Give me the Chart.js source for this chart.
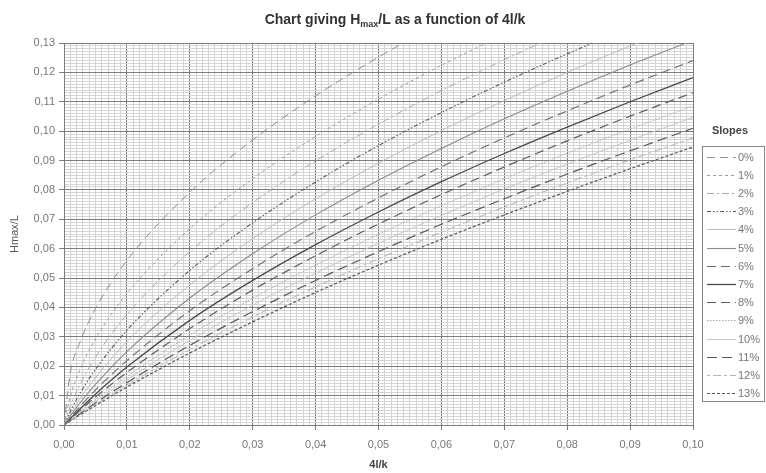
<!DOCTYPE html>
<html><head><meta charset="utf-8">
<script src="https://cdn.jsdelivr.net/npm/chart.js@4.4.1/dist/chart.umd.min.js"></script>
<style>html,body{margin:0;padding:0;background:#fff}canvas{display:block}</style>
</head><body>
<canvas id="c" width="766" height="473"></canvas>
<script>
// ---- data ----
const xValues = [0, 0.001, 0.0025, 0.005, 0.01, 0.02, 0.03, 0.04, 0.05, 0.06, 0.07, 0.08, 0.09, 0.10];
const slopeLabels = ['0%','1%','2%','3%','4%','5%','6%','7%','8%','9%','10%','11%','12%','13%'];
const slope0  = [0, 0.0177, 0.0280, 0.0396, 0.0560, 0.0792, 0.0970, 0.1120, 0.1252, 0.1372, null, null, null, null];
const slope1  = [0, 0.0097, 0.0186, 0.0293, 0.0447, 0.0668, 0.0838, 0.0982, 0.1109, 0.1224, 0.1330, null, null, null];
const slope2  = [0, 0.0063, 0.0136, 0.0231, 0.0376, 0.0590, 0.0757, 0.0899, 0.1024, 0.1138, 0.1243, 0.1341, null, null];
const slope3  = [0, 0.0046, 0.0106, 0.0189, 0.0322, 0.0526, 0.0688, 0.0827, 0.0951, 0.1063, 0.1167, 0.1263, 0.1354, null];
const slope4  = [0, 0.0037, 0.0088, 0.0161, 0.0284, 0.0477, 0.0634, 0.0770, 0.0891, 0.1002, 0.1104, 0.1200, 0.1290, 0.1375];
const slope5  = [0, 0.0031, 0.0074, 0.0138, 0.0250, 0.0432, 0.0583, 0.0715, 0.0833, 0.0941, 0.1042, 0.1136, 0.1225, 0.1309];
const slope6  = [0, 0.0026, 0.0062, 0.0119, 0.0219, 0.0389, 0.0532, 0.0659, 0.0773, 0.0879, 0.0977, 0.1069, 0.1157, 0.1240];
const slope7  = [0, 0.0022, 0.0054, 0.0105, 0.0197, 0.0356, 0.0492, 0.0614, 0.0725, 0.0828, 0.0924, 0.1014, 0.1100, 0.1182];
const slope8  = [0, 0.0020, 0.0049, 0.0095, 0.0179, 0.0328, 0.0459, 0.0576, 0.0684, 0.0784, 0.0878, 0.0967, 0.1051, 0.1131];
const slope9  = [0, 0.0018, 0.0044, 0.0087, 0.0165, 0.0306, 0.0431, 0.0544, 0.0649, 0.0746, 0.0838, 0.0925, 0.1007, 0.1086];
const slope10 = [0, 0.0017, 0.0041, 0.0080, 0.0154, 0.0288, 0.0408, 0.0517, 0.0619, 0.0713, 0.0803, 0.0888, 0.0969, 0.1047];
const slope11 = [0, 0.0015, 0.0038, 0.0075, 0.0144, 0.0271, 0.0386, 0.0492, 0.0590, 0.0683, 0.0770, 0.0854, 0.0933, 0.1010];
const slope12 = [0, 0.0014, 0.0036, 0.0070, 0.0136, 0.0257, 0.0368, 0.0470, 0.0566, 0.0656, 0.0742, 0.0824, 0.0902, 0.0977];
const slope13 = [0, 0.0014, 0.0034, 0.0066, 0.0129, 0.0245, 0.0351, 0.0451, 0.0544, 0.0632, 0.0715, 0.0795, 0.0872, 0.0946];
const xTickLabels = ['0,00','0,01','0,02','0,03','0,04','0,05','0,06','0,07','0,08','0,09','0,10'];
const yTickLabels = ['0,00','0,01','0,02','0,03','0,04','0,05','0,06','0,07','0,08','0,09','0,10','0,11','0,12','0,13'];

// ---- styles ----
const seriesList = [slope0,slope1,slope2,slope3,slope4,slope5,slope6,slope7,slope8,slope9,slope10,slope11,slope12,slope13];
const lineColors = ['#8f8f8f','#9c9c9c','#ababab','#5a5a5a','#bdbdbd','#8c8c8c','#6c6c6c','#4a4a4a','#5c5c5c','#a8a8a8','#c8c8c8','#5a5a5a','#b4b4b4','#585858'];
const lineDashes = [[8,5],[3,3],[7,3,2,3],[4,2,1.5,2,1.5,2],[],[],[9,5],[],[9,5],[1.5,1.5],[],[10,5],[3,3,8,3],[3,2]];
const lineWidths = [1,1,1,1.1,1,1.1,1.1,1.3,1.2,1,1,1.2,1,1.2];

const FONT = "Arial, 'Liberation Sans', sans-serif";
const isMajor = v => Math.abs(v*100 - Math.round(v*100)) < 1e-6;

const datasets = seriesList.map((vals, i) => ({
  label: slopeLabels[i],
  data: xValues.map((x, j) => ({x: x, y: vals[j]})),
  borderColor: lineColors[i],
  borderDash: lineDashes[i],
  borderWidth: lineWidths[i],
  pointRadius: 0,
  fill: false,
  cubicInterpolationMode: 'monotone',
  spanGaps: false
}));

const titlePlugin = {
  id: 'subTitle',
  afterDraw(chart) {
    const ctx = chart.ctx;
    ctx.save();
    const big = 'bold 14px ' + FONT, small = 'bold 9px ' + FONT;
    const p1 = 'Chart giving H', p2 = 'max', p3 = '/L as a function of 4l/k';
    ctx.font = big; const w1 = ctx.measureText(p1).width, w3 = ctx.measureText(p3).width;
    ctx.font = small; const w2 = ctx.measureText(p2).width;
    const total = w1 + w2 + w3;
    let x = 395 - total/2; const y = 24;
    ctx.fillStyle = '#333'; ctx.textBaseline = 'alphabetic'; ctx.textAlign = 'left';
    ctx.font = big; ctx.fillText(p1, x, y); x += w1;
    ctx.font = small; ctx.fillText(p2, x, y + 3); x += w2;
    ctx.font = big; ctx.fillText(p3, x, y);
    ctx.restore();
  }
};

const legendPlugin = {
  id: 'slopeLegend',
  afterDraw(chart) {
    const ctx = chart.ctx;
    ctx.save();
    ctx.fillStyle = '#444'; ctx.font = 'bold 11px ' + FONT;
    ctx.textAlign = 'center'; ctx.textBaseline = 'middle';
    ctx.fillText('Slopes', 730, 131);
    ctx.strokeStyle = '#888'; ctx.lineWidth = 1; ctx.setLineDash([]);
    ctx.strokeRect(702.5, 146.5, 62, 255);
    chart.data.datasets.forEach((ds, i) => {
      const y = Math.round(156.5 + i * 18.2) + 0.5;
      ctx.strokeStyle = ds.borderColor; ctx.lineWidth = ds.borderWidth; ctx.setLineDash(ds.borderDash);
      ctx.beginPath(); ctx.moveTo(707, y); ctx.lineTo(736, y); ctx.stroke();
      ctx.setLineDash([]);
      ctx.fillStyle = '#777'; ctx.font = '11px ' + FONT; ctx.textAlign = 'left';
      ctx.fillText(ds.label, 738, y);
    });
    ctx.restore();
  }
};

new Chart(document.getElementById('c'), {
  type: 'line',
  data: { datasets },
  plugins: [titlePlugin, legendPlugin],
  options: {
    responsive: false,
    animation: false,
    events: [],
    layout: { padding: { top: 43, right: 73, left: 0, bottom: 0 } },
    plugins: { legend: { display: false }, title: { display: false }, tooltip: { enabled: false } },
    scales: {
      x: {
        type: 'linear', min: 0, max: 0.10,
        afterFit(s) { s.height = 48; },
        ticks: {
          stepSize: 0.001, autoSkip: false, maxRotation: 0, minRotation: 0, padding: 8,
          color: '#777', font: { family: FONT, size: 11 },
          callback: v => isMajor(v) ? xTickLabels[Math.round(v*100)] : ''
        },
        grid: {
          color: c => isMajor(c.tick.value) ? '#7c7c7c' : '#d4d4d4',
          tickColor: c => isMajor(c.tick.value) ? '#7c7c7c' : 'rgba(0,0,0,0)',
          tickLength: 5, lineWidth: 1
        },
        border: { color: '#7c7c7c' },
        title: { display: true, text: '4l/k', color: '#444', font: { family: FONT, size: 11, weight: 'bold' }, padding: { top: 0, bottom: 1 } }
      },
      y: {
        type: 'linear', min: 0, max: 0.13,
        afterFit(s) { s.width = 64; },
        ticks: {
          stepSize: 0.001, autoSkip: false, padding: 4,
          color: '#777', font: { family: FONT, size: 11 },
          callback: v => isMajor(v) ? yTickLabels[Math.round(v*100)] : ''
        },
        grid: {
          color: c => isMajor(c.tick.value) ? '#7c7c7c' : '#d4d4d4',
          tickColor: c => isMajor(c.tick.value) ? '#7c7c7c' : 'rgba(0,0,0,0)',
          tickLength: 5, lineWidth: 1
        },
        border: { color: '#7c7c7c' },
        title: { display: true, text: 'Hmax/L', color: '#555', font: { family: FONT, size: 11 }, padding: { top: 8, bottom: 0 } }
      }
    }
  }
});
</script>
</body></html>
